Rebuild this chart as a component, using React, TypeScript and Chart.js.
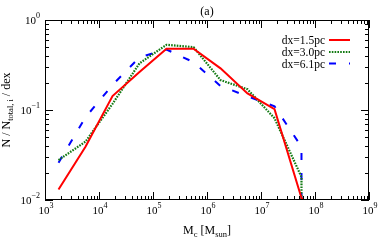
import React, { useEffect, useRef } from 'react';
import { Chart, registerables } from 'chart.js';

Chart.register(...registerables);

// ---- data ----
const massBins = [1.78e3, 5.62e3, 1.78e4, 5.62e4, 1.78e5, 5.62e5, 1.78e6, 5.62e6, 1.78e7, 5.62e7];
const dx15Values = [0.0131, 0.039, 0.143, 0.265, 0.48, 0.48, 0.29, 0.153, 0.102, 0.0105];
const dx15TailMass = [1.78e8];
const dx15TailValues = [0.005];
const dx30Values = [0.0278, 0.0445, 0.117, 0.33, 0.53, 0.5, 0.215, 0.17, 0.081, 0.018];
const dx30TailMass = [5.62e7];
const dx30TailValues = [0.0001];
const dx61Values = [0.026, 0.083, 0.19, 0.385, 0.47, 0.34, 0.185, 0.142, 0.11, 0.039];
const dx61TailMass = [5.62e7];
const dx61TailValues = [0.0001];

const seriesLabels = ['dx=1.5pc', 'dx=3.0pc', 'dx=6.1pc'];
const seriesColors = ['#ff0000', '#127a12', '#0000ff'];
const xTickExponents = [3, 4, 5, 6, 7, 8, 9];
const yTickExponents = [-2, -1, 0];
const titleText = '(a)';
const xTitleParts = [['M', 'c'], [' [M', 'sun'], [']', '']];
const yTitleParts = [['N / N', 'total, i'], [' / dex', '']];

const FONT = '"Liberation Serif", "Times New Roman", serif';

function toPoints(xs: number[], ys: number[]) {
  return xs.map((x, i) => ({ x, y: ys[i] }));
}

function drawSupLabel(ctx: CanvasRenderingContext2D, base: string, sup: string, x: number, y: number, align: 'center' | 'right') {
  ctx.font = `11px ${FONT}`;
  const wb = ctx.measureText(base).width;
  ctx.font = `8px ${FONT}`;
  const ws = ctx.measureText(sup).width;
  const total = wb + ws;
  const x0 = align === 'center' ? x - total / 2 : x - total;
  ctx.textAlign = 'left';
  ctx.textBaseline = 'alphabetic';
  ctx.font = `11px ${FONT}`;
  ctx.fillText(base, x0, y);
  ctx.font = `8px ${FONT}`;
  ctx.fillText(sup, x0 + wb, y - 6);
}

function measureSubText(ctx: CanvasRenderingContext2D, parts: string[][], size: number, subSize: number) {
  let w = 0;
  for (const [main, sub] of parts) {
    ctx.font = `${size}px ${FONT}`;
    w += ctx.measureText(main).width;
    if (sub) {
      ctx.font = `${subSize}px ${FONT}`;
      w += ctx.measureText(sub).width;
    }
  }
  return w;
}

function drawSubText(ctx: CanvasRenderingContext2D, parts: string[][], x: number, y: number, size: number, subSize: number) {
  let cx = x;
  ctx.textAlign = 'left';
  ctx.textBaseline = 'alphabetic';
  for (const [main, sub] of parts) {
    ctx.font = `${size}px ${FONT}`;
    ctx.fillText(main, cx, y);
    cx += ctx.measureText(main).width;
    if (sub) {
      ctx.font = `${subSize}px ${FONT}`;
      ctx.fillText(sub, cx, y + 3);
      cx += ctx.measureText(sub).width;
    }
  }
}

const framePlugin = {
  id: 'frame',
  afterDraw(chart: any) {
    const ctx: CanvasRenderingContext2D = chart.ctx;
    const area = chart.chartArea;
    const xs = chart.scales.x;
    const ys = chart.scales.y;
    ctx.save();
    ctx.strokeStyle = '#000';
    ctx.fillStyle = '#000';
    ctx.lineWidth = 1;
    // frame
    ctx.strokeRect(Math.round(area.left) + 0.5, Math.round(area.top) + 0.5,
      Math.round(area.right - area.left) - 1, Math.round(area.bottom - area.top) - 1);

    const majorLen = 8;
    const minorLen = 4;
    ctx.beginPath();
    // x ticks (bottom & top)
    for (let e = xTickExponents[0]; e < xTickExponents[xTickExponents.length - 1] + 1; e++) {
      for (let k = 1; k <= 9; k++) {
        const v = k * Math.pow(10, e);
        if (v < xs.min * 0.999 || v > xs.max * 1.001) continue;
        const px = Math.round(xs.getPixelForValue(v)) + 0.5;
        const len = k === 1 ? majorLen : minorLen;
        ctx.moveTo(px, area.bottom);
        ctx.lineTo(px, area.bottom - len);
        ctx.moveTo(px, area.top);
        ctx.lineTo(px, area.top + len);
      }
    }
    // y ticks (left & right)
    for (let e = yTickExponents[0]; e <= yTickExponents[yTickExponents.length - 1]; e++) {
      for (let k = 1; k <= 9; k++) {
        const v = k * Math.pow(10, e);
        if (v < ys.min * 0.999 || v > ys.max * 1.001) continue;
        const py = Math.round(ys.getPixelForValue(v)) + 0.5;
        const len = k === 1 ? majorLen : minorLen;
        ctx.moveTo(area.left, py);
        ctx.lineTo(area.left + len, py);
        ctx.moveTo(area.right, py);
        ctx.lineTo(area.right - len, py);
      }
    }
    ctx.stroke();

    // tick labels
    for (const e of xTickExponents) {
      const px = xs.getPixelForValue(Math.pow(10, e));
      drawSupLabel(ctx, '10', String(e), px + 1, area.bottom + 14, 'center');
    }
    for (const e of yTickExponents) {
      const py = ys.getPixelForValue(Math.pow(10, e));
      drawSupLabel(ctx, '10', String(e).replace('-', '\u2212'), area.left - 5, py + 4, 'right');
    }

    // x title
    const cx = (area.left + area.right) / 2;
    const wx = measureSubText(ctx, xTitleParts, 12, 8.5);
    drawSubText(ctx, xTitleParts, cx - wx / 2, 234, 12, 8.5);

    // y title (rotated)
    const cy = (area.top + area.bottom) / 2;
    ctx.save();
    ctx.translate(10, cy);
    ctx.rotate(-Math.PI / 2);
    const wy = measureSubText(ctx, yTitleParts, 12, 8.5);
    drawSubText(ctx, yTitleParts, -wy / 2, 0, 12, 8.5);
    ctx.restore();

    // title
    ctx.font = `12px ${FONT}`;
    ctx.textAlign = 'center';
    ctx.textBaseline = 'alphabetic';
    ctx.fillText(titleText, cx, 15);

    // legend
    const rows = [40, 52, 63.5];
    chart.data.datasets.forEach((ds: any, i: number) => {
      const y = rows[i];
      ctx.font = `11.5px ${FONT}`;
      ctx.textAlign = 'right';
      ctx.fillStyle = '#000';
      ctx.fillText(ds.label, 325, y + 4);
      ctx.save();
      ctx.strokeStyle = ds.borderColor;
      ctx.lineWidth = ds.borderWidth;
      ctx.setLineDash(ds.borderDash || []);
      ctx.lineCap = 'butt';
      ctx.beginPath();
      ctx.moveTo(329, y);
      ctx.lineTo(350, y);
      ctx.stroke();
      ctx.restore();
    });
    ctx.restore();
  },
};

export default function App() {
  const ref = useRef<HTMLCanvasElement | null>(null);
  useEffect(() => {
    if (!ref.current) return;
    const chart = new Chart(ref.current, {
      type: 'scatter',
      data: {
        datasets: [
          {
            label: seriesLabels[0],
            data: toPoints([...massBins, ...dx15TailMass], [...dx15Values, ...dx15TailValues]),
            showLine: true,
            borderColor: seriesColors[0],
            backgroundColor: seriesColors[0],
            borderWidth: 2,
            pointRadius: 0,
            borderDash: [],
          },
          {
            label: seriesLabels[1],
            data: toPoints([...massBins, ...dx30TailMass], [...dx30Values, ...dx30TailValues]),
            showLine: true,
            borderColor: seriesColors[1],
            backgroundColor: seriesColors[1],
            borderWidth: 2.2,
            pointRadius: 0,
            borderDash: [1.6, 1.2],
          },
          {
            label: seriesLabels[2],
            data: toPoints([...massBins, ...dx61TailMass], [...dx61Values, ...dx61TailValues]),
            showLine: true,
            borderColor: seriesColors[2],
            backgroundColor: seriesColors[2],
            borderWidth: 2,
            pointRadius: 0,
            borderDash: [7, 13],
          },
        ],
      },
      options: {
        animation: false,
        responsive: false,
        devicePixelRatio: 1,
        layout: { padding: { left: 45, right: 13, top: 20, bottom: 43 } },
        plugins: { legend: { display: false }, tooltip: { enabled: false }, title: { display: false } },
        scales: {
          x: { type: 'logarithmic', min: 1e3, max: 1e9, display: false },
          y: { type: 'logarithmic', min: 1e-2, max: 1, display: false },
        },
      } as any,
      plugins: [framePlugin],
    });
    return () => chart.destroy();
  }, []);
  return (
    <div style={{ position: 'fixed', left: 0, top: 0, width: 382, height: 243, background: '#fff' }}>
      <canvas ref={ref} width={382} height={243} style={{ width: 382, height: 243, display: 'block' }} />
    </div>
  );
}
